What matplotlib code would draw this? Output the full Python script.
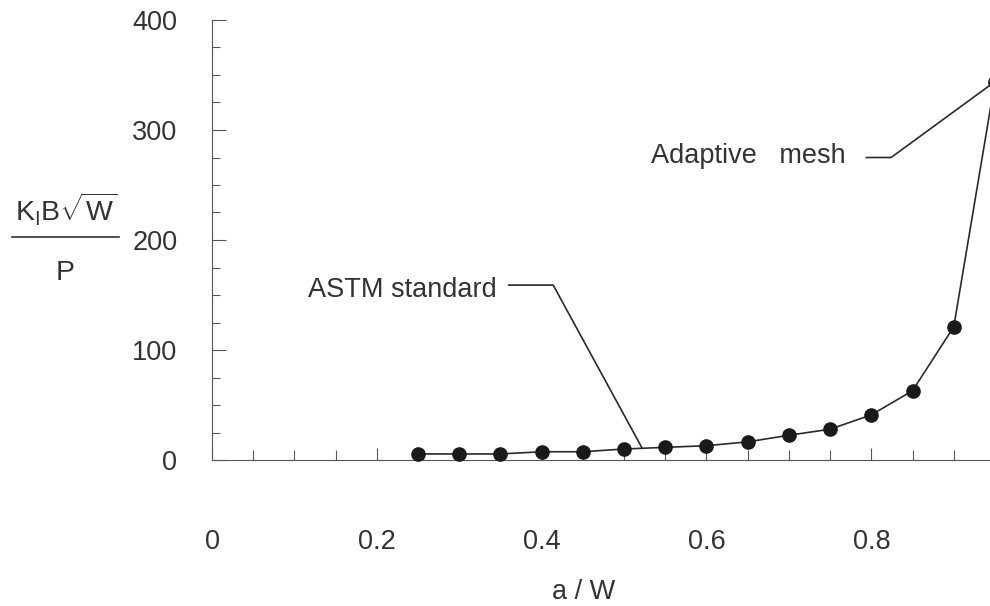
import numpy as np
import matplotlib.pyplot as plt
from matplotlib.lines import Line2D
from matplotlib.ticker import MultipleLocator

plt.rcParams['font.family'] = ['Liberation Sans', 'DejaVu Sans']
plt.rcParams['mathtext.fontset'] = 'custom'
plt.rcParams['mathtext.rm'] = 'Liberation Sans'
plt.rcParams['mathtext.it'] = 'Liberation Sans'
plt.rcParams['mathtext.sf'] = 'Liberation Sans'

# Data
a_over_w = [0.25, 0.30, 0.35, 0.40, 0.45, 0.50, 0.55, 0.60,
            0.65, 0.70, 0.75, 0.80, 0.85, 0.90, 0.95]
k_norm = [5.5, 5.5, 5.5, 7.5, 7.5, 10, 11.5, 13,
          16.5, 22.5, 28, 41, 63, 121, 344]

x_ticks = [0, 0.2, 0.4, 0.6, 0.8]
x_tick_labels = ['0', '0.2', '0.4', '0.6', '0.8']
y_ticks = [0, 100, 200, 300, 400]

fig = plt.figure(figsize=(9.9, 6.06), dpi=100)
ax = fig.add_axes([212 / 990, 1 - 460 / 606, 778 / 990, 440 / 606])

ax.plot(a_over_w, k_norm, color='#2a2a2a', lw=1.2, marker='o', ms=9.5,
        mfc='#1a1a1a', mec='#1a1a1a', clip_on=False, zorder=3)

ax.set_xlim(0, 0.944)
ax.set_ylim(0, 400)

ax.set_xticks(x_ticks)
ax.set_xticklabels(x_tick_labels)
ax.set_yticks(y_ticks)
ax.xaxis.set_minor_locator(MultipleLocator(0.05))
ax.yaxis.set_minor_locator(MultipleLocator(25))

ax.tick_params(axis='both', which='both', direction='in', colors='#555555',
               labelcolor='#333333', labelsize=19.5, width=0.8)
ax.tick_params(axis='x', which='major', length=9, pad=50)
ax.tick_params(axis='x', which='minor', length=7)
ax.tick_params(axis='y', which='major', length=10, pad=25)
ax.tick_params(axis='y', which='minor', length=6)

for side in ['top', 'right']:
    ax.spines[side].set_visible(False)
for side in ['left', 'bottom']:
    ax.spines[side].set_color('#555555')
    ax.spines[side].set_linewidth(0.8)

# Axis labels
fig.text(584 / 990, 1 - 592 / 606, 'a / W', ha='center', va='center',
         fontsize=19.5, color='#333333')

# y label as a hand-built fraction
fig.text(66 / 990, 1 - 222 / 606, r'K$_{\mathrm{I}}$B$\sqrt{\mathrm{W}}$',
         ha='center', va='baseline', fontsize=20.5, color='#333333')
fig.add_artist(Line2D([12 / 990, 119 / 990], [1 - 237 / 606, 1 - 237 / 606],
                      transform=fig.transFigure, color='#333333', lw=1.2))
fig.text(65 / 990, 1 - 280 / 606, 'P', ha='center', va='baseline',
         fontsize=20.5, color='#333333')

# Annotations with leader lines
ax.text(0.345, 148, 'ASTM standard', ha='right', va='baseline',
        fontsize=19.5, color='#333333')
astm_x = 0.522
astm_y = np.interp(astm_x, a_over_w, k_norm)
ax.plot([0.360, 0.414, astm_x], [159, 159, astm_y], color='#2a2a2a', lw=1.2)

ax.text(0.769, 270, 'Adaptive   mesh', ha='right', va='baseline',
        fontsize=19.5, color='#333333')
ax.plot([0.794, 0.824, a_over_w[-1]], [275, 275, k_norm[-1]],
        color='#2a2a2a', lw=1.2, clip_on=False)

fig.savefig('out.png', dpi=100, facecolor='white')
